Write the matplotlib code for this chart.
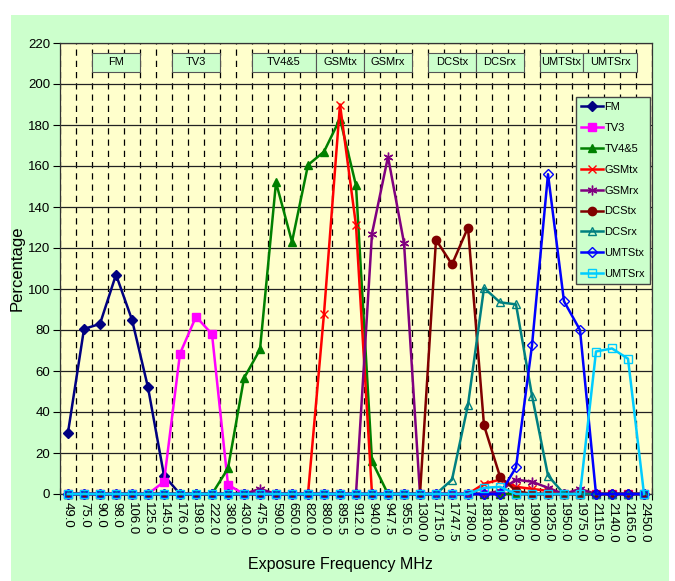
import matplotlib
matplotlib.use('Agg')
import matplotlib.pyplot as plt
from matplotlib.patches import Rectangle

plt.rcParams['font.family'] = ['Liberation Sans', 'DejaVu Sans']

freqs = ['49.0', '75.0', '90.0', '98.0', '106.0', '125.0', '145.0', '176.0', '198.0',
         '222.0', '380.0', '430.0', '475.0', '590.0', '650.0', '820.0', '880.0', '895.5',
         '912.0', '940.0', '947.5', '955.0', '1300.0', '1715.0', '1747.5', '1780.0',
         '1810.0', '1840.0', '1875.0', '1900.0', '1925.0', '1950.0', '1975.0', '2115.0',
         '2140.0', '2165.0', '2450.0']
n = len(freqs)

def series(points):
    vals = [0.0] * n
    for i, v in points.items():
        vals[i] = v
    return vals

fm = series({0: 30, 1: 80.5, 2: 83, 3: 107, 4: 85, 5: 52, 6: 9})
tv3 = series({6: 6, 7: 68.5, 8: 86.5, 9: 78, 10: 4.5})
tv45 = series({10: 12.5, 11: 56.5, 12: 70.5, 13: 152, 14: 123, 15: 160.5, 16: 167,
               17: 183, 18: 150.5, 19: 16})
gsm_tx = series({16: 88, 17: 190, 18: 131, 26: 5, 27: 7, 28: 3.5, 29: 2.5, 30: 1.5})
gsm_rx = series({12: 2.5, 19: 127, 20: 164.5, 21: 122.5, 27: 1.5, 28: 7, 29: 6,
                 30: 3, 32: 2.5})
dcs_tx = series({23: 124, 24: 112, 25: 130, 26: 33.5, 27: 8.5, 28: 1.5})
dcs_rx = series({24: 7, 25: 43.5, 26: 100.5, 27: 93.5, 28: 92.5, 29: 48, 30: 9})
umts_tx = series({28: 13, 29: 72.5, 30: 156, 31: 94, 32: 80})
umts_rx = series({26: 3, 27: 3.5, 33: 69.5, 34: 71, 35: 66})

names = ['FM', 'TV3', 'TV4&5', 'GSMtx', 'GSMrx', 'DCStx', 'DCSrx', 'UMTStx', 'UMTSrx']
data = [fm, tv3, tv45, gsm_tx, gsm_rx, dcs_tx, dcs_rx, umts_tx, umts_rx]
colors = ['#000080', '#FF00FF', '#008000', '#FF0000', '#800080', '#800000',
          '#008080', '#0000FF', '#00CCFF']
markers = ['D', 's', '^', 'x', (6, 2, 0), 'o', '^', 'D', 's']
sizes = [5, 6, 6, 6, 7, 6, 6, 5, 6]
filled = [True, True, True, True, True, True, False, False, False]

# band label boxes along the top: (label, left, right) in category units
band_names = ['FM', 'TV3', 'TV4&5', 'GSMtx', 'GSMrx', 'DCStx', 'DCSrx', 'UMTStx', 'UMTSrx']
band_left = [1.5, 6.5, 11.5, 15.5, 18.5, 22.5, 25.5, 29.5, 32.2]
band_right = [4.5, 9.5, 15.5, 18.5, 21.5, 25.5, 28.5, 32.2, 35.55]

fig = plt.figure(figsize=(6.75, 5.81), dpi=100)
fig.patches.append(Rectangle((11 / 675, 0), 658 / 675, 1 - 15 / 581,
                             transform=fig.transFigure, facecolor='#CCFFCC',
                             edgecolor='none', zorder=-10))
ax = fig.add_axes([60 / 675, 1 - 494 / 581, 592 / 675, 451 / 581])
ax.set_facecolor('#FFFFCC')

x = list(range(n))
for vals, name, c, m, s, f in zip(data, names, colors, markers, sizes, filled):
    ax.plot(x, vals, color=c, lw=1.8, marker=m, ms=s, label=name,
            markerfacecolor=c if f else 'none', markeredgecolor=c,
            markeredgewidth=1.0, clip_on=False, zorder=3)

ax.set_xlim(-0.5, n - 0.5)
ax.set_ylim(0, 220)
ax.set_yticks(range(0, 221, 20))
ax.set_xticks(x)
ax.set_xticklabels(freqs, rotation=-90, fontsize=9.5)
ax.set_xticks([i - 0.5 for i in range(n + 1)], minor=True)
ax.tick_params(axis='x', which='major', length=0, pad=6)
ax.tick_params(axis='x', which='minor', direction='inout', length=8, width=0.8)
ax.tick_params(axis='y', direction='out', length=5, width=0.8, labelsize=9.5, pad=2)

ax.grid(axis='y', color='#222222', lw=0.9, zorder=0)
ax.grid(axis='x', which='minor', color='black', lw=0.9, ls=(0, (5, 4)), zorder=0)
for sp in ax.spines.values():
    sp.set_color('#333333')
    sp.set_linewidth(0.9)

for lab, l, r in zip(band_names, band_left, band_right):
    ax.add_patch(Rectangle((l, 206), r - l, 9.3, facecolor='#CCFFCC',
                           edgecolor='#555555', lw=0.8, zorder=4))
    ax.text((l + r) / 2, 210.6, lab, ha='center', va='center', fontsize=8, zorder=5)

leg = ax.legend(loc='upper left', bbox_to_anchor=((576 - 60) / 592, (494 - 97) / 451),
                fontsize=8, frameon=True, fancybox=False, handlelength=2.0,
                handletextpad=0.1, labelspacing=0.98, borderpad=0.45,
                borderaxespad=0)
leg.get_frame().set_facecolor('#CCFFCC')
leg.get_frame().set_edgecolor('#444444')
leg.get_frame().set_linewidth(1.0)
leg.get_frame().set_alpha(1)
leg.set_zorder(6)

ax.set_ylabel('Percentage', fontsize=12)
ax.yaxis.set_label_coords((25 - 60) / 592, 0.5)
fig.text(340 / 675, 1 - 565 / 581, 'Exposure Frequency MHz', ha='center', va='center',
         fontsize=11.5)

fig.savefig('out.png', dpi=100)
